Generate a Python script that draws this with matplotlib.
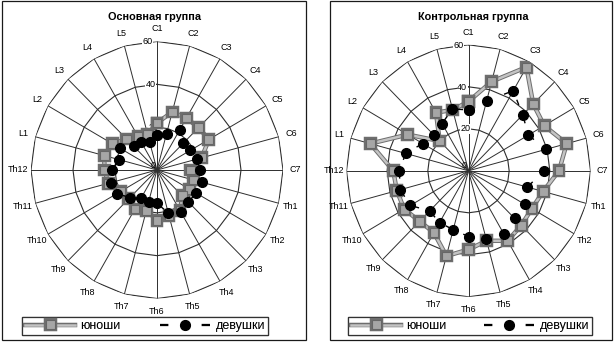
import numpy as np
import matplotlib
matplotlib.use('Agg')
import matplotlib.pyplot as plt
from matplotlib.lines import Line2D
from matplotlib.patches import Rectangle
import matplotlib.patheffects as pe

categories = ['C1', 'C2', 'C3', 'C4', 'C5', 'C6', 'C7',
              'Th1', 'Th2', 'Th3', 'Th4', 'Th5', 'Th6', 'Th7', 'Th8', 'Th9',
              'Th10', 'Th11', 'Th12', 'L1', 'L2', 'L3', 'L4', 'L5']
r_ticks = [0, 20, 40, 60]
titles = ['Основная группа', 'Контрольная группа']
series_names = ['юноши', 'девушки']

main_boys = [22, 28, 28, 28, 28.5, 22, 16, 18, 18, 17, 22, 22,
             23.5, 19.5, 21, 19, 20, 24, 25, 26, 24.5, 20.5, 18, 17]
main_girls = [16.4, 17.5, 21.6, 17.6, 18.3, 19.5, 20.5, 22, 21.6, 21, 22.4, 20.7,
              15.6, 15.3, 15, 18.2, 22, 22.8, 21.6, 18.7, 20.4, 15.6, 15, 13.4]
ctrl_boys = [33, 44, 57, 45, 43, 50, 44.5, 38, 36, 36.7, 38.5, 34.5,
             37.5, 42, 34, 34, 36.5, 36.5, 37, 50, 34.5, 20, 32, 30]
ctrl_girls = [29, 34.5, 44, 37.7, 34, 39.5, 37, 30, 32, 32, 34.6, 33.4,
              31.3, 29, 28.5, 27, 33, 34.8, 34, 32, 26, 24, 26, 30.5]

plt.rcParams['font.family'] = ['Liberation Sans', 'DejaVu Sans']

W, H = 614, 342
fig = plt.figure(figsize=(W / 100, H / 100), dpi=100)
fig.patch.set_facecolor('white')


def px_rect(cx, cy, rx, ry):
    return [(cx - rx) / W, (H - cy - ry) / H, 2 * rx / W, 2 * ry / H]


theta = np.linspace(0, 2 * np.pi, len(categories), endpoint=False)
closed = np.append(theta, theta[0])

boy_effects = [pe.Stroke(linewidth=3.2, foreground='#6e6e6e'), pe.Normal()]


def draw(ax, boys, girls):
    ax.set_theta_zero_location('N')
    ax.set_theta_direction(-1)
    ax.set_ylim(0, 60)
    ax.grid(False)
    ax.spines['polar'].set_visible(False)
    ax.patch.set_alpha(0)
    ax.set_aspect('auto')
    ax.set_xticks([])
    ax.set_yticks([])
    for rv in r_ticks[1:]:
        ax.plot(closed, [rv] * len(closed), color='#2e2e2e', lw=0.8, zorder=1)
    for t in theta:
        ax.plot([t, t], [0, r_ticks[-1]], color='#2e2e2e', lw=0.7, zorder=1)
    for t, lab in zip(theta, categories):
        ax.text(t, 66, lab, ha='center', va='center', fontsize=6.5, clip_on=False)
    for rv in r_ticks:
        ax.text(np.deg2rad(-4.5) if rv else np.deg2rad(-40), rv if rv else 3, str(rv),
                ha='center', va='center', fontsize=6.5, zorder=2,
                bbox=dict(facecolor='white', edgecolor='none', pad=0.3) if rv else None)
    b = np.append(boys, boys[0])
    g = np.append(girls, girls[0])
    ax.plot(closed, b, color='#c4c4c4', lw=1.8, marker='s', ms=6.3,
            mfc='#a6a6a6', mec='#666666', mew=0.8, zorder=3, path_effects=boy_effects)
    ax.plot(closed, g, color='black', lw=1.0, ls=(0, (4, 10)), marker='o', ms=7,
            mfc='black', mec='black', zorder=4)


ax1 = fig.add_axes(px_rect(157, 170, 126, 128.5), projection='polar')
draw(ax1, main_boys, main_girls)
ax2 = fig.add_axes(px_rect(468.5, 170.8, 122, 126), projection='polar')
draw(ax2, ctrl_boys, ctrl_girls)

for (tx, ty), title in zip([(155, 17), (473, 17)], titles):
    fig.text(tx / W, 1 - ty / H, title, ha='center', va='center',
             fontsize=7.8, fontweight='bold')

# frames
for x0, x1 in [(2, 306), (330, 612)]:
    fig.add_artist(Rectangle((x0 / W, (H - 340) / H), (x1 - x0) / W, 339 / H,
                             transform=fig.transFigure, fill=False,
                             ec='#1a1a1a', lw=0.9))

h_boy = Line2D([], [], color='#c4c4c4', lw=1.8, marker='s', ms=6.3,
               mfc='#a6a6a6', mec='#666666', mew=0.8, path_effects=boy_effects)
h_girl = Line2D([], [], color='black', lw=1.6, ls=(0, (3.75, 15)), marker='o', ms=7,
                mfc='black', mec='black')

for x0, x1 in [(22, 268), (348, 592)]:
    leg = fig.legend([h_boy, h_girl], series_names, loc='center', ncol=2,
                     bbox_to_anchor=(x0 / W, (H - 336) / H, (x1 - x0) / W, 20 / H),
                     bbox_transform=fig.transFigure, mode='expand',
                     fontsize=9, handlelength=4.0, handletextpad=0.4,
                     frameon=True, fancybox=False, borderaxespad=0,
                     borderpad=0.25, edgecolor='#1a1a1a')
    leg.get_frame().set_linewidth(0.9)
    fig.add_artist(leg)

fig.savefig('out.png', dpi=100, facecolor='white')
